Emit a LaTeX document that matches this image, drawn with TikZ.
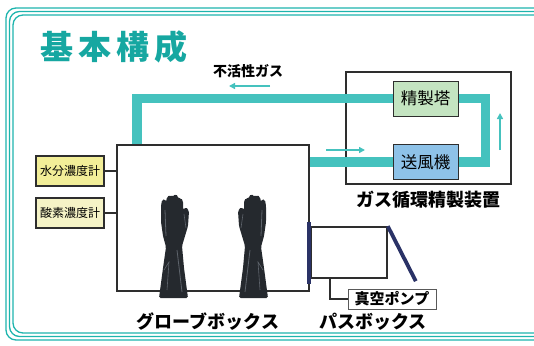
\documentclass[tikz,border=0pt]{standalone}
\usepackage{fontspec}
\setmainfont{Noto Sans CJK JP}
\usetikzlibrary{arrows.meta,backgrounds}

\definecolor{frameteal}{HTML}{1DB4AD}
\definecolor{titleteal}{HTML}{16A7A1}
\definecolor{pipeteal}{HTML}{45C2BE}
\definecolor{towergreen}{HTML}{C4E4C1}
\definecolor{blowerblue}{HTML}{8EC2E8}
\definecolor{meteryellow}{HTML}{F2EE98}
\definecolor{meterpale}{HTML}{F5F3C6}
\definecolor{doornavy}{HTML}{2A3266}
\definecolor{glovedark}{HTML}{25292E}
\definecolor{glovelight}{HTML}{5E646C}
\definecolor{linegray}{HTML}{2E2E2E}

% one rubber glove, thumb to the right
\newcommand{\glove}{%
  \fill[glovedark, rounded corners=1.5pt]
    (159,298) -- (163,268) -- (166,247) -- (163,236) -- (161,222) -- (161,206)
    -- (162,200) -- (165,199) -- (166,202) -- (167,197) -- (170,195) -- (172,197)
    -- (173,196) -- (176,194) -- (178,197) -- (179,199) -- (181,198) -- (183,201)
    -- (183,210) -- (186,207) -- (189,211) -- (188,226) -- (185,236) -- (182,246)
    -- (184,268) -- (188,298) -- cycle;
  \draw[glovelight, line width=0.8pt] (165,210) -- (166,236);
  \draw[glovelight, line width=0.8pt] (177,250) -- (182,292);
  \draw[glovelight, line width=0.6pt] (164,270) -- (169,262) -- (167,290);
  \draw[glovelight, line width=0.6pt] (184,214) -- (186,228);
}

\begin{document}
\begin{tikzpicture}[x=1pt, y=-1pt, every node/.style={inner sep=0pt},
    frameline/.style={frameteal, line width=1.3pt, rounded corners=10pt},
    pipe/.style={pipeteal, line width=9.5pt},
    flow/.style={pipeteal, line width=1.6pt, -{Triangle[length=6pt,width=6pt]}},
    box/.style={draw=linegray, line width=1.6pt},
    unit/.style={draw=linegray, line width=1pt, minimum width=65pt, minimum height=35pt,
      font=\fontsize{16.5}{18}\selectfont},
    meter/.style={draw=linegray, line width=1.3pt, minimum width=68pt, minimum height=30pt,
      font=\fontsize{12}{14}\selectfont},
    caption/.style={font=\bfseries\fontsize{18}{20}\selectfont},
    door/.style={doornavy, line width=3.8pt},
    wire/.style={linegray, line width=1.6pt}]
  \useasboundingbox (0,0) rectangle (534,345);

  % triple border
  \begin{scope}
    \clip (0,0) rectangle (534,345);
    \draw[frameline] (6,8) rectangle (552,340);
    \draw[frameline] (9.5,11.5) rectangle (548,336.5);
    \draw[frameline] (13,15) rectangle (544,333);
  \end{scope}

  \node[text=titleteal, font=\bfseries\fontsize{33}{36}\selectfont] (T) at (114,47)
    {基\hspace{5pt}本\hspace{5pt}構\hspace{5pt}成};

  % boxes
  \node[box, minimum width=192pt, minimum height=146pt] (GB) at (213,218) {};
  \node[box, minimum width=76pt, minimum height=51pt] (PB) at (349,252.5) {};

  \node[unit, fill=towergreen] (SEI) at (425.5,98.5) {精製塔};
  \node[unit, fill=blowerblue] (SOU) at (425.5,162) {送風機};

  % purifier housing and gas loop, under the units
  \begin{scope}[on background layer]
    \node[box, minimum width=165pt, minimum height=112pt] (GPU) at (428.5,128) {};
    \draw[pipe] ([xshift=21pt]GB.north west) |- (SEI);
    \draw[pipe] (SEI.east) -- ++(27,0) |- (SOU.east);
    \draw[pipe] (SOU.west) -- (SOU.west -| GB.east);
  \end{scope}

  \coordinate (F1) at (270,86);
  \coordinate (F2) at (326,150);
  \coordinate (F3) at (500,150);
  \draw[flow] (F1) -- ++(-41,0);
  \draw[flow] (F2) -- ++(39,0);
  \draw[flow] (F3) -- ++(0,-37);

  \node[font=\bfseries\fontsize{14}{16}\selectfont] (IG) at (248,71) {不活性ガス};
  \node[caption] (GPUL) at (428,200) {ガス循環精製装置};

  % meters
  \node[meter, fill=meteryellow] (MOI) at (70,171) {水分濃度計};
  \node[meter, fill=meterpale] (OXY) at (70,213) {酸素濃度計};
  \draw[wire] (MOI.east) -- (MOI.east -| GB.west);
  \draw[wire] (OXY.east) -- (OXY.east -| GB.west);

  % gloves
  \glove
  \begin{scope}[xshift=427pt, xscale=-1]
    \glove
  \end{scope}

  % pass box doors
  \draw[door] ([xshift=-1pt,yshift=4pt]PB.north west) -- ([xshift=-1pt,yshift=-5pt]PB.south west);
  \draw[door] (PB.north east) -- ++(28,55);

  % vacuum pump
  \node[draw=gray!70!black, fill=white, line width=1pt, minimum width=88pt, minimum height=20pt,
    font=\bfseries\fontsize{15}{16}\selectfont] (VP) at (392,299) {真空ポンプ};
  \draw[wire] ([xshift=-19pt]PB.south) |- (VP.west);

  \node[caption] (GBL) at (208,322) {グローブボックス};
  \node[caption] (PBL) at (373,322) {パスボックス};
\end{tikzpicture}
\end{document}
